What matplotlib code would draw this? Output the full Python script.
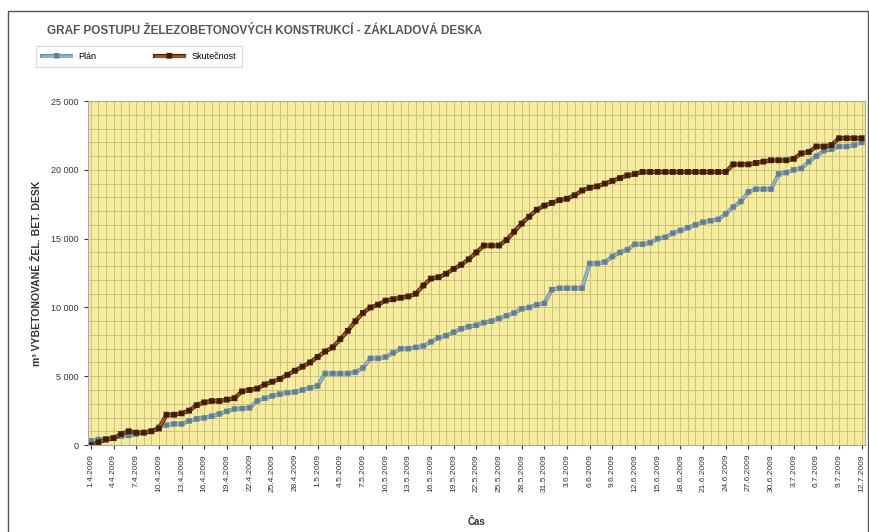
import numpy as np
import pandas as pd
import matplotlib
matplotlib.use('Agg')
import matplotlib.pyplot as plt
import matplotlib.patheffects as pe
from matplotlib.ticker import FuncFormatter, MultipleLocator

plt.rcParams['font.family'] = ['Liberation Sans', 'DejaVu Sans']

# dny 1.4.2009 - 12.7.2009
days = pd.date_range('2009-04-01', '2009-07-12', freq='D')
day_labels = [f'{d.day}.{d.month}.{d.year}' for d in days]

# Plán (modrá)
plan = [300, 400, 450, 500, 650, 700, 800, 900, 1000, 1300,
        1450, 1530, 1530, 1750, 1900, 1970, 2100, 2260, 2450, 2620,
        2650, 2700, 3200, 3400, 3570, 3700, 3800, 3850, 4000, 4150,
        4300, 5200, 5200, 5200, 5200, 5300, 5600, 6300, 6300, 6400,
        6700, 7000, 7000, 7100, 7200, 7500, 7800, 7950, 8200, 8450,
        8600, 8700, 8900, 9000, 9200, 9400, 9600, 9900, 10000, 10200,
        10300,
        11300, 11400, 11400, 11400, 11400, 13200, 13200, 13300, 13700, 14000,
        14200, 14600, 14600, 14700, 15000, 15100, 15400, 15600, 15800, 16000,
        16200, 16300, 16400, 16800, 17300, 17700, 18400, 18600, 18600, 18600,
        19700, 19800, 20000, 20100, 20600, 21000, 21400, 21500, 21700, 21700,
        21800, 22000]

# Skutečnost (hnědá)
actual = [0, 200, 400, 500, 800, 1000, 900, 900, 1000, 1200,
          2200, 2200, 2300, 2500, 2900, 3100, 3200, 3200, 3300, 3400,
          3900, 4000, 4100, 4400, 4600, 4800, 5100, 5400, 5700, 6000,
          6400, 6800, 7100, 7700, 8300, 9000, 9600, 10000, 10200, 10500,
          10600, 10700, 10800, 11000, 11600, 12100, 12200, 12450, 12800, 13100,
          13500, 14000, 14500, 14500, 14500, 14900, 15500, 16100, 16600, 17100,
          17400,
          17600, 17800, 17900, 18150, 18500, 18700, 18800, 19000, 19200, 19400,
          19600, 19700, 19850, 19850, 19850, 19850, 19850, 19850, 19850, 19850,
          19850, 19850, 19850, 19850, 20400, 20400, 20400, 20500, 20600, 20700,
          20700, 20700, 20800, 21200, 21300, 21700, 21700, 21800, 22300, 22300,
          22300, 22300]

x = np.arange(len(days))

fig = plt.figure(figsize=(8.7, 5.32), dpi=100)
ax = fig.add_axes([0.101, 0.1635, 0.893, 0.6465])
ax.set_facecolor('#f5ec9e')

# ramecek kolem grafu
fig.patches.append(plt.Rectangle((0.009, -0.05), 0.989, 1.03, transform=fig.transFigure,
                                 fill=False, edgecolor='#555555', linewidth=1.0))

ax.plot(x, plan, color='#94b6cf', linewidth=1.8, marker='s', markersize=1.2,
        markerfacecolor='#5d7b90', markeredgecolor='#5d7b90', label='Plán',
        path_effects=[pe.Stroke(linewidth=2.8, foreground='#6d8595'), pe.Normal()])
ax.plot(x, actual, color='#a85a22', linewidth=1.8, marker='s', markersize=1.2,
        markerfacecolor='#3a1a06', markeredgecolor='#3a1a06', label='Skutečnost',
        path_effects=[pe.Stroke(linewidth=3.0, foreground='#47220c'), pe.Normal()])

ax.set_xlim(-0.4, len(days) - 0.6)
ax.set_ylim(0, 25000)
ax.yaxis.set_major_locator(MultipleLocator(5000))
ax.yaxis.set_minor_locator(MultipleLocator(1000))
ax.yaxis.set_major_formatter(FuncFormatter(lambda v, p: f'{int(v):,}'.replace(',', ' ')))
ax.set_xticks(x[::3])
ax.set_xticklabels(day_labels[::3], rotation=90, fontsize=6, color='#333333')
ax.set_xticks(x, minor=True)
ax.tick_params(axis='y', labelsize=6.5, colors='#333333', length=3)
ax.tick_params(axis='x', length=3, colors='#333333')
ax.tick_params(which='minor', length=0)
ax.grid(True, which='both', color='#cbc283', linewidth=0.7)
ax.set_axisbelow(True)
for s in ax.spines.values():
    s.set_color('#a8a8a8')
    s.set_linewidth(0.8)

ax.set_xlabel('Čas', fontsize=7, fontweight='bold', color='#333333', labelpad=18)
ax.set_ylabel('m³ VYBETONOVANÉ ŽEL. BET. DESK', fontsize=7.5, fontweight='bold',
              color='#333333', labelpad=7)

fig.text(0.054, 0.942, 'GRAF POSTUPU ŽELEZOBETONOVÝCH KONSTRUKCÍ - ZÁKLADOVÁ DESKA',
         fontsize=8.5, fontweight='bold', color='#555555', va='center')

leg = fig.legend(loc='center left', bbox_to_anchor=(0.036, 0.894), ncol=2,
                 fontsize=6.5, frameon=True, fancybox=False, handlelength=3.2,
                 columnspacing=6.5, borderpad=0.7)
leg.get_frame().set_edgecolor('#d0d0d0')
leg.get_frame().set_linewidth(0.8)

fig.savefig('out.png', dpi=100)
